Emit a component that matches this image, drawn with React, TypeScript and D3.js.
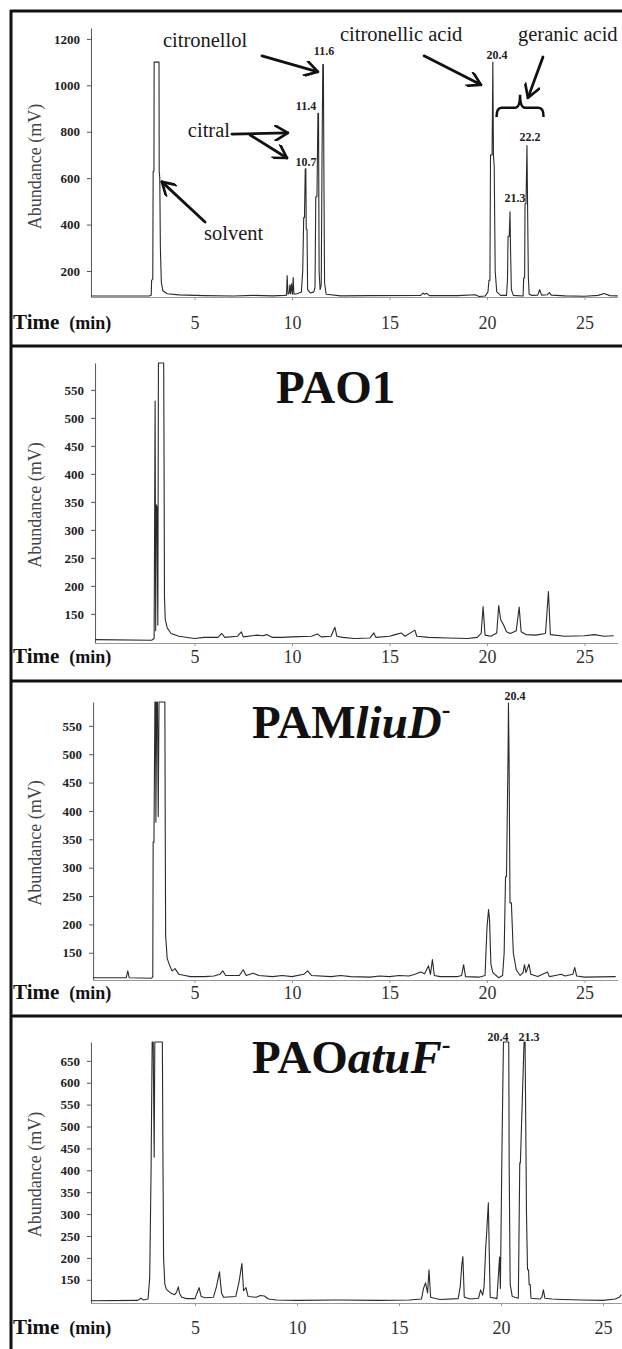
import * as d3 from 'd3'
import { useEffect, useRef } from 'react'

// traces: [time (min), abundance (mV)]
const standardsTrace: [number, number][] = [
  [-0.3, 92], [1.5, 92], [2.7, 93], [2.78, 96], [2.8, 160], [2.86, 165], [2.88, 630], [2.92, 630],
  [2.93, 1100], [3.18, 1100], [3.19, 630], [3.22, 600], [3.25, 300], [3.3, 150], [3.38, 115], [3.6, 102],
  [4.2, 97], [5.5, 94], [7.0, 92], [8.0, 95], [9.0, 93], [9.6, 95], [9.72, 96], [9.75, 180], [9.8, 100],
  [9.86, 105], [9.89, 140], [9.93, 102], [9.97, 145], [10.02, 100], [10.06, 172], [10.1, 100], [10.3, 103],
  [10.48, 110], [10.55, 200], [10.6, 430], [10.64, 430], [10.68, 640], [10.71, 640], [10.73, 380],
  [10.77, 380], [10.8, 120], [10.95, 105], [11.12, 110], [11.18, 130], [11.22, 520], [11.28, 520],
  [11.33, 880], [11.36, 880], [11.39, 200], [11.44, 120], [11.5, 140], [11.54, 700], [11.58, 1090],
  [11.61, 1090], [11.63, 700], [11.67, 150], [11.75, 100], [12.5, 93], [14.0, 94], [16.6, 95], [16.72, 105],
  [16.8, 100], [16.9, 104], [17.05, 94], [18.5, 94], [19.4, 98], [19.6, 90], [19.9, 92], [20.05, 110],
  [20.1, 160], [20.15, 160], [20.18, 700], [20.26, 700], [20.3, 1100], [20.33, 700], [20.37, 650],
  [20.42, 200], [20.5, 110], [20.7, 95], [21.0, 95], [21.05, 160], [21.08, 350], [21.14, 350], [21.18, 455],
  [21.21, 280], [21.25, 120], [21.35, 95], [21.85, 92], [21.88, 170], [21.93, 170], [21.95, 490], [22.0, 490],
  [22.05, 740], [22.08, 490], [22.12, 175], [22.16, 100], [22.3, 95], [22.6, 96], [22.7, 120], [22.8, 96],
  [23.1, 98], [23.2, 107], [23.3, 96], [24.0, 93], [25.0, 91], [25.7, 95], [26.0, 103], [26.3, 94], [26.7, 93],
]

const pao1Trace: [number, number][] = [
  [-0.1, 104], [2.8, 103], [2.93, 106], [2.98, 530], [3.01, 120], [3.04, 345], [3.08, 340], [3.12, 130],
  [3.15, 598], [3.42, 598], [3.44, 415], [3.46, 180], [3.5, 140], [3.6, 125], [3.8, 115], [4.2, 110],
  [5.0, 106], [5.5, 108], [6.2, 108], [6.4, 115], [6.55, 108], [7.2, 110], [7.4, 118], [7.5, 109],
  [8.2, 112], [8.5, 111], [8.7, 113], [9.0, 108], [9.5, 108], [10.0, 109], [11.0, 110], [11.3, 114],
  [11.5, 109], [12.0, 110], [12.2, 126], [12.3, 110], [12.6, 108], [13.2, 106], [14.0, 107], [14.2, 116],
  [14.3, 108], [15.0, 110], [15.3, 113], [15.6, 116], [15.8, 110], [16.3, 121], [16.4, 110], [17.0, 108],
  [18.0, 107], [19.0, 106], [19.5, 108], [19.7, 115], [19.8, 163], [19.9, 112], [20.2, 110], [20.5, 116],
  [20.6, 165], [20.7, 140], [20.85, 130], [21.0, 118], [21.2, 115], [21.5, 120], [21.65, 162], [21.75, 118],
  [22.0, 113], [22.5, 112], [23.0, 115], [23.15, 190], [23.25, 113], [24.0, 110], [25.0, 111], [25.5, 113],
  [26.0, 110], [26.5, 111],
]

const pamLiuDTrace: [number, number][] = [
  [-0.2, 106], [1.5, 106], [1.58, 118], [1.65, 106], [2.8, 105], [2.86, 108], [2.88, 345], [2.92, 345],
  [2.97, 592], [3.0, 592], [3.02, 380], [3.06, 592], [3.1, 592], [3.14, 390], [3.18, 592], [3.48, 592],
  [3.5, 365], [3.52, 180], [3.6, 140], [3.7, 130], [3.85, 118], [4.0, 122], [4.2, 112], [4.5, 110],
  [4.8, 108], [5.5, 108], [6.0, 109], [6.3, 112], [6.45, 118], [6.6, 110], [7.3, 110], [7.5, 120],
  [7.65, 110], [8.0, 114], [8.3, 110], [9.0, 108], [9.5, 110], [10.0, 108], [10.6, 112], [10.8, 118],
  [11.0, 110], [12.0, 108], [12.5, 110], [13.0, 108], [14.0, 107], [14.5, 109], [15.0, 108], [15.5, 110],
  [16.0, 109], [16.3, 112], [16.6, 116], [16.8, 113], [17.0, 127], [17.1, 112], [17.2, 138], [17.3, 110],
  [17.6, 108], [18.5, 108], [18.7, 110], [18.8, 129], [18.9, 108], [19.6, 107], [19.9, 110], [20.0, 195],
  [20.08, 226], [20.13, 208], [20.2, 130], [20.3, 115], [20.6, 106], [20.8, 110], [20.88, 150], [20.95, 284],
  [21.0, 284], [21.08, 502], [21.1, 590], [21.13, 502], [21.18, 238], [21.25, 238], [21.35, 150],
  [21.5, 120], [21.7, 110], [21.85, 115], [21.92, 129], [22.0, 115], [22.15, 130], [22.25, 112],
  [22.6, 108], [23.1, 116], [23.2, 108], [23.5, 110], [23.8, 112], [24.0, 109], [24.4, 112], [24.5, 124],
  [24.6, 109], [25.0, 107], [26.6, 108],
]

const paoAtuFTrace: [number, number][] = [
  [-0.1, 102], [2.2, 103], [2.35, 108], [2.45, 104], [2.7, 106], [2.78, 155], [2.85, 413], [2.9, 693],
  [2.95, 693], [3.0, 430], [3.03, 693], [3.4, 693], [3.43, 420], [3.46, 200], [3.52, 140], [3.6, 128],
  [3.8, 120], [4.0, 116], [4.1, 122], [4.18, 134], [4.25, 118], [4.35, 110], [4.6, 107], [5.0, 107],
  [5.1, 120], [5.2, 132], [5.3, 112], [5.5, 109], [5.9, 110], [6.05, 134], [6.2, 168], [6.3, 120],
  [6.4, 110], [7.0, 112], [7.15, 143], [7.3, 187], [7.38, 125], [7.5, 132], [7.6, 112], [8.0, 110],
  [8.2, 114], [8.4, 113], [8.6, 106], [9.0, 104], [10.0, 103], [12.0, 104], [14.0, 103], [15.5, 104],
  [16.1, 106], [16.2, 130], [16.3, 143], [16.4, 120], [16.47, 173], [16.55, 110], [17.0, 105], [17.9, 107],
  [18.0, 134], [18.08, 184], [18.13, 203], [18.2, 110], [18.5, 106], [18.9, 108], [19.0, 127], [19.1, 115],
  [19.17, 134], [19.25, 223], [19.3, 260], [19.38, 326], [19.42, 223], [19.47, 110], [19.8, 107],
  [19.93, 202], [19.97, 130], [20.05, 458], [20.12, 693], [20.38, 693], [20.4, 417], [20.45, 140],
  [20.55, 112], [20.85, 108], [20.92, 417], [20.95, 417], [21.13, 693], [21.18, 693], [21.25, 300],
  [21.3, 173], [21.35, 173], [21.38, 139], [21.43, 139], [21.47, 108], [21.9, 106], [22.0, 110],
  [22.08, 127], [22.15, 108], [22.5, 106], [23.0, 105], [24.0, 104], [25.0, 103], [25.6, 106],
  [25.8, 110], [25.9, 116],
]

const timeTicks = [5, 10, 15, 20, 25]
const standardsTicks = [200, 400, 600, 800, 1000, 1200]
const mutantTicks = [150, 200, 250, 300, 350, 400, 450, 500, 550]
const atuFTicks = [150, 200, 250, 300, 350, 400, 450, 500, 550, 600, 650]

// peak retention-time labels: [text, time, abundance] (label centre)
const standardsPeakLabels: [string, number, number][] = [
  ['11.6', 11.64, 1148], ['11.4', 10.72, 911], ['10.7', 10.72, 670],
  ['20.4', 20.51, 1131], ['21.3', 21.44, 515], ['22.2', 22.21, 778],
]
const liuDPeakLabels: [string, number, number][] = [['20.4', 21.44, 603]]
const atuFPeakLabels: [string, number, number][] = [['20.4', 19.85, 705], ['21.3', 21.37, 705]]

// compound names and arrows on the standards run: [text, time, abundance, anchor]
const compoundNames: [string, number, number, string][] = [
  ['citronellol', 5.54, 1166, 'middle'],
  ['citral', 6.82, 778, 'end'],
  ['solvent', 5.49, 334, 'start'],
  ['citronellic acid', 12.46, 1191, 'start'],
  ['geranic acid', 21.59, 1191, 'start'],
]
// [fromTime, fromAbundance, toTime, toAbundance]
const compoundArrows: [number, number, number, number][] = [
  [8.46, 1127, 11.33, 1058],
  [6.92, 790, 9.79, 795],
  [7.85, 786, 9.74, 687],
  [5.54, 411, 3.33, 584],
  [16.77, 1127, 19.69, 1002],
  [22.87, 1122, 22.1, 946],
]
// geranic acid brace: [startTime, endTime, lowAbundance, midAbundance, tipAbundance]
const geranicBrace = [20.49, 22.9, 864, 903, 959]

const FONT = '"Liberation Serif", "Times New Roman", Times, serif'

const panels = [
  { trace: standardsTrace, ticks: standardsTicks, labels: standardsPeakLabels, x0: 97, k: 19.5, t0: -0.31, t1: 26.7,
    yDomain: [88, 1247], yRange: [297, 28], row: 329, sep: 11, title: null as null | string[] },
  { trace: pao1Trace, ticks: mutantTicks, labels: [] as [string, number, number][], x0: 97, k: 19.5, t0: -0.1, t1: 26.7,
    yDomain: [98, 598], yRange: [643, 363], row: 663, sep: 346, title: ['PAO1', '', '', '276', '403'] },
  { trace: pamLiuDTrace, ticks: mutantTicks, labels: liuDPeakLabels, x0: 97, k: 19.5, t0: -0.2, t1: 26.7,
    yDomain: [102, 592], yRange: [980, 702], row: 999, sep: 681, title: ['PAM', 'liuD', '-', '252', '738'] },
  { trace: paoAtuFTrace, ticks: atuFTicks, labels: atuFPeakLabels, x0: 93, k: 20.4, t0: -0.1, t1: 25.9,
    yDomain: [97, 693], yRange: [1303, 1042], row: 1334, sep: 1016, title: ['PAO', 'atuF', '-', '252', '1073'] },
]

export default function App() {
  const svgRef = useRef<SVGSVGElement>(null)

  useEffect(() => {
    const svg = d3.select(svgRef.current)
    svg.selectAll('*').remove()

    svg.append('rect').attr('width', 622).attr('height', 1349).attr('fill', '#fff')

    const defs = svg.append('defs')
    defs.append('marker')
      .attr('id', 'arrowHead')
      .attr('viewBox', '0 0 12 12')
      .attr('refX', 11)
      .attr('refY', 6)
      .attr('markerWidth', 16)
      .attr('markerHeight', 16)
      .attr('markerUnits', 'userSpaceOnUse')
      .attr('orient', 'auto')
      .append('path')
      .attr('d', 'M1,0 L11,6 L1,12')
      .attr('fill', 'none')
      .attr('stroke', '#111')
      .attr('stroke-width', 2)

    panels.forEach((p, idx) => {
      const x = d3.scaleLinear().domain([p.t0, p.t1]).range([p.x0 + p.k * p.t0, p.x0 + p.k * p.t1])
      const y = d3.scaleLinear().domain(p.yDomain).range(p.yRange)
      const g = svg.append('g')

      // frame separator
      g.append('line')
        .attr('x1', 10).attr('x2', 622).attr('y1', p.sep).attr('y2', p.sep)
        .attr('stroke', '#111').attr('stroke-width', 3)

      // y axis
      const yAxis = d3.axisLeft(y).tickValues(p.ticks).tickSize(4).tickPadding(7).tickSizeOuter(0)
        .tickFormat(d3.format('d'))
      const ya = g.append('g').attr('transform', `translate(${x(p.t0)},0)`).call(yAxis)
      ya.select('.domain').attr('stroke', '#555')
      ya.selectAll('line').attr('stroke', '#555')
      ya.selectAll('text')
        .style('font-family', FONT).style('font-size', '13px').style('font-weight', 'bold').attr('fill', '#222')

      // x axis
      const gap = p.row - p.yRange[0]
      const xAxis = d3.axisBottom(x).tickValues(timeTicks).tickSize(3).tickPadding(gap - 3 - 0.71 * 18)
        .tickSizeOuter(0).tickFormat(d3.format('d'))
      const xa = g.append('g').attr('transform', `translate(0,${p.yRange[0]})`).call(xAxis)
      xa.select('.domain').attr('stroke', '#999')
      xa.selectAll('line').attr('stroke', '#999')
      xa.selectAll('text').style('font-family', FONT).style('font-size', '18px').attr('fill', '#333')

      const timeLabel = g.append('text')
        .attr('x', 13).attr('y', p.row)
        .style('font-family', FONT).style('font-weight', 'bold').attr('fill', '#111')
      timeLabel.append('tspan').style('font-size', '21px').text('Time')
      timeLabel.append('tspan').style('font-size', '18px').attr('dx', 10).text('(min)')

      g.append('text')
        .attr('transform', `translate(41,${(p.yRange[0] + p.yRange[1]) / 2 + (idx === 0 ? 4 : 2)}) rotate(-90)`)
        .attr('text-anchor', 'middle')
        .style('font-family', FONT).style('font-size', '18px').attr('fill', '#444')
        .text('Abundance (mV)')

      // chromatogram
      const line = d3.line<[number, number]>().x(d => x(d[0])).y(d => y(d[1]))
      g.append('path')
        .datum(p.trace)
        .attr('d', line)
        .attr('fill', 'none')
        .attr('stroke', '#2b2b2b')
        .attr('stroke-width', 1.1)
        .attr('stroke-linejoin', 'round')

      // peak labels
      g.selectAll('text.peak')
        .data(p.labels)
        .join('text')
        .attr('class', 'peak')
        .attr('x', d => x(d[1]))
        .attr('y', d => y(d[2]) + 4)
        .attr('text-anchor', 'middle')
        .style('font-family', FONT).style('font-size', '12px').style('font-weight', 'bold').attr('fill', '#222')
        .text(d => d[0])

      if (p.title) {
        const t = g.append('text')
          .attr('x', +p.title[3]).attr('y', +p.title[4])
          .style('font-family', FONT).style('font-size', '47px').style('font-weight', 'bold').attr('fill', '#111')
        t.append('tspan').text(p.title[0])
        if (p.title[1]) t.append('tspan').style('font-style', 'italic').text(p.title[1])
        if (p.title[2]) t.append('tspan').style('font-size', '26px').attr('dy', -20).text(p.title[2])
      }

      if (idx === 0) {
        g.selectAll('text.compound')
          .data(compoundNames)
          .join('text')
          .attr('class', 'compound')
          .attr('x', d => x(d[1]))
          .attr('y', d => y(d[2]))
          .attr('text-anchor', d => d[3])
          .style('font-family', FONT).style('font-size', '20.5px').attr('fill', '#1a1a1a')
          .text(d => d[0])

        g.selectAll('line.arrow')
          .data(compoundArrows)
          .join('line')
          .attr('class', 'arrow')
          .attr('x1', d => x(d[0])).attr('y1', d => y(d[1]))
          .attr('x2', d => x(d[2])).attr('y2', d => y(d[3]))
          .attr('stroke', '#111').attr('stroke-width', 2.8).attr('stroke-linecap', 'round')
          .attr('marker-end', 'url(#arrowHead)')

        const [bs, be, bLow, bMid, bTip] = geranicBrace
        const xs = x(bs), xe = x(be), xm = (xs + xe) / 2
        const yl = y(bLow), ym = y(bMid), yt = y(bTip)
        const brace = d3.path()
        brace.moveTo(xs, yl)
        brace.quadraticCurveTo(xs, ym, xs + 5, ym)
        brace.lineTo(xm - 5, ym)
        brace.quadraticCurveTo(xm, ym, xm, yt)
        brace.quadraticCurveTo(xm, ym, xm + 5, ym)
        brace.lineTo(xe - 5, ym)
        brace.quadraticCurveTo(xe, ym, xe, yl)
        g.append('path').attr('d', brace.toString())
          .attr('fill', 'none').attr('stroke', '#111').attr('stroke-width', 2.5)
      }
    })

    // left edge of the frame
    svg.append('line')
      .attr('x1', 11).attr('x2', 11).attr('y1', 10).attr('y2', 1349)
      .attr('stroke', '#111').attr('stroke-width', 3)
  }, [])

  return (
    <svg ref={svgRef} width={622} height={1349}
      style={{ position: 'absolute', left: 0, top: 0, display: 'block' }} />
  )
}
